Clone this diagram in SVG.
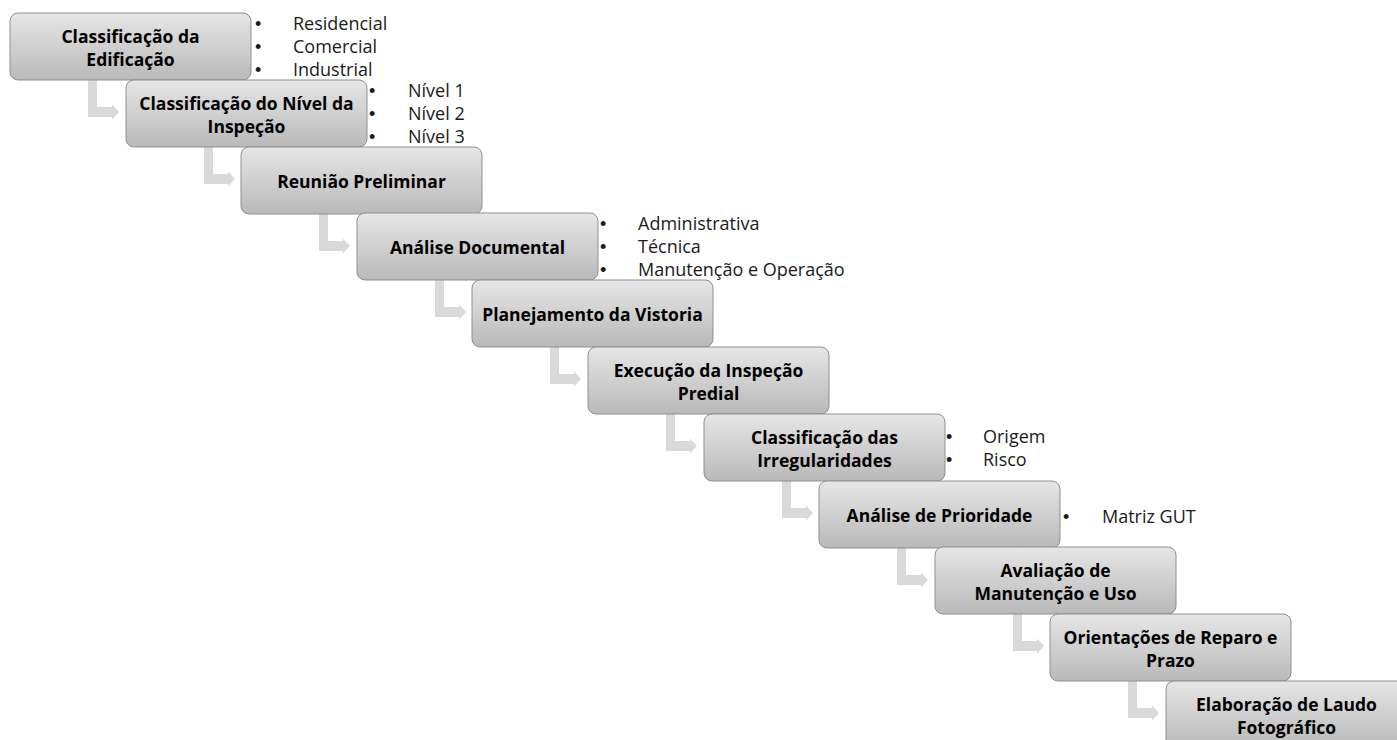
<svg xmlns="http://www.w3.org/2000/svg" width="1397" height="740" viewBox="0 0 1397 740">
<defs>
<linearGradient id="g" x1="0" y1="0" x2="0" y2="1">
<stop offset="0" stop-color="#e6e6e6"/>
<stop offset="1" stop-color="#b9b9b9"/>
</linearGradient>
<path id="arr" d="M78,67 H87 V94 H102 V91.5 L109,99 L102,106.5 V104 H78 Z"/>
</defs>
<style>
.box{fill:url(#g);stroke:#8f8f8f;stroke-width:1}
.t{font-family:"Open Sans","Noto Sans",sans-serif;font-weight:bold;font-size:17.5px;fill:#000;text-anchor:middle}
.b{font-family:"Open Sans","Noto Sans",sans-serif;font-size:18px;fill:#1a1a1a}
.d{font-family:"Liberation Sans",Arial,sans-serif;font-size:18px;fill:#1a1a1a}
.arrow{fill:#d9d9d9}
</style>
<rect width="1397" height="740" fill="#fff"/>
<g id="connectors">
<use href="#arr" class="arrow" transform="translate(10,13)"/>
<use href="#arr" class="arrow" transform="translate(126,80)"/>
<use href="#arr" class="arrow" transform="translate(241,147)"/>
<use href="#arr" class="arrow" transform="translate(357,213)"/>
<use href="#arr" class="arrow" transform="translate(472,280)"/>
<use href="#arr" class="arrow" transform="translate(588,347)"/>
<use href="#arr" class="arrow" transform="translate(704,414)"/>
<use href="#arr" class="arrow" transform="translate(819,481)"/>
<use href="#arr" class="arrow" transform="translate(935,547)"/>
<use href="#arr" class="arrow" transform="translate(1050,614)"/>
</g>
<g id="n1">
<rect class="box" x="10" y="13" width="241" height="67" rx="8"/>
<text class="t" x="130.5" y="43">Classificação da</text>
<text class="t" x="130.5" y="66">Edificação</text>
<text class="d" x="255" y="30">•</text><text class="b" x="293" y="30">Residencial</text>
<text class="d" x="255" y="53">•</text><text class="b" x="293" y="53">Comercial</text>
<text class="d" x="255" y="76">•</text><text class="b" x="293" y="76">Industrial</text>
</g>
<g id="n2">
<rect class="box" x="126" y="80" width="241" height="67" rx="8"/>
<text class="t" x="246.5" y="110">Classificação do Nível da</text>
<text class="t" x="246.5" y="133">Inspeção</text>
<text class="d" x="369" y="97">•</text><text class="b" x="408" y="97">Nível 1</text>
<text class="d" x="369" y="120">•</text><text class="b" x="408" y="120">Nível 2</text>
<text class="d" x="369" y="143">•</text><text class="b" x="408" y="143">Nível 3</text>
</g>
<g id="n3">
<rect class="box" x="241" y="147" width="241" height="67" rx="8"/>
<text class="t" x="361.5" y="187.5">Reunião Preliminar</text>
</g>
<g id="n4">
<rect class="box" x="357" y="213" width="241" height="67" rx="8"/>
<text class="t" x="477.5" y="253.5">Análise Documental</text>
<text class="d" x="600" y="230">•</text><text class="b" x="638" y="230">Administrativa</text>
<text class="d" x="600" y="253">•</text><text class="b" x="638" y="253">Técnica</text>
<text class="d" x="600" y="276">•</text><text class="b" x="638" y="276">Manutenção e Operação</text>
</g>
<g id="n5">
<rect class="box" x="472" y="280" width="241" height="67" rx="8"/>
<text class="t" x="592.5" y="320.5">Planejamento da Vistoria</text>
</g>
<g id="n6">
<rect class="box" x="588" y="347" width="241" height="67" rx="8"/>
<text class="t" x="708.5" y="377">Execução da Inspeção</text>
<text class="t" x="708.5" y="400">Predial</text>
</g>
<g id="n7">
<rect class="box" x="704" y="414" width="241" height="67" rx="8"/>
<text class="t" x="824.5" y="444">Classificação das</text>
<text class="t" x="824.5" y="467">Irregularidades</text>
<text class="d" x="946" y="443">•</text><text class="b" x="983" y="443">Origem</text>
<text class="d" x="946" y="466">•</text><text class="b" x="983" y="466">Risco</text>
</g>
<g id="n8">
<rect class="box" x="819" y="481" width="241" height="67" rx="8"/>
<text class="t" x="939.5" y="521.5">Análise de Prioridade</text>
<text class="d" x="1063" y="523">•</text><text class="b" x="1102" y="523">Matriz GUT</text>
</g>
<g id="n9">
<rect class="box" x="935" y="547" width="241" height="67" rx="8"/>
<text class="t" x="1055.5" y="577">Avaliação de</text>
<text class="t" x="1055.5" y="600">Manutenção e Uso</text>
</g>
<g id="n10">
<rect class="box" x="1050" y="614" width="241" height="67" rx="8"/>
<text class="t" x="1170.5" y="644">Orientações de Reparo e</text>
<text class="t" x="1170.5" y="667">Prazo</text>
</g>
<g id="n11">
<rect class="box" x="1166" y="681" width="241" height="67" rx="8"/>
<text class="t" x="1286.5" y="711">Elaboração de Laudo</text>
<text class="t" x="1286.5" y="734">Fotográfico</text>
</g>
</svg>
